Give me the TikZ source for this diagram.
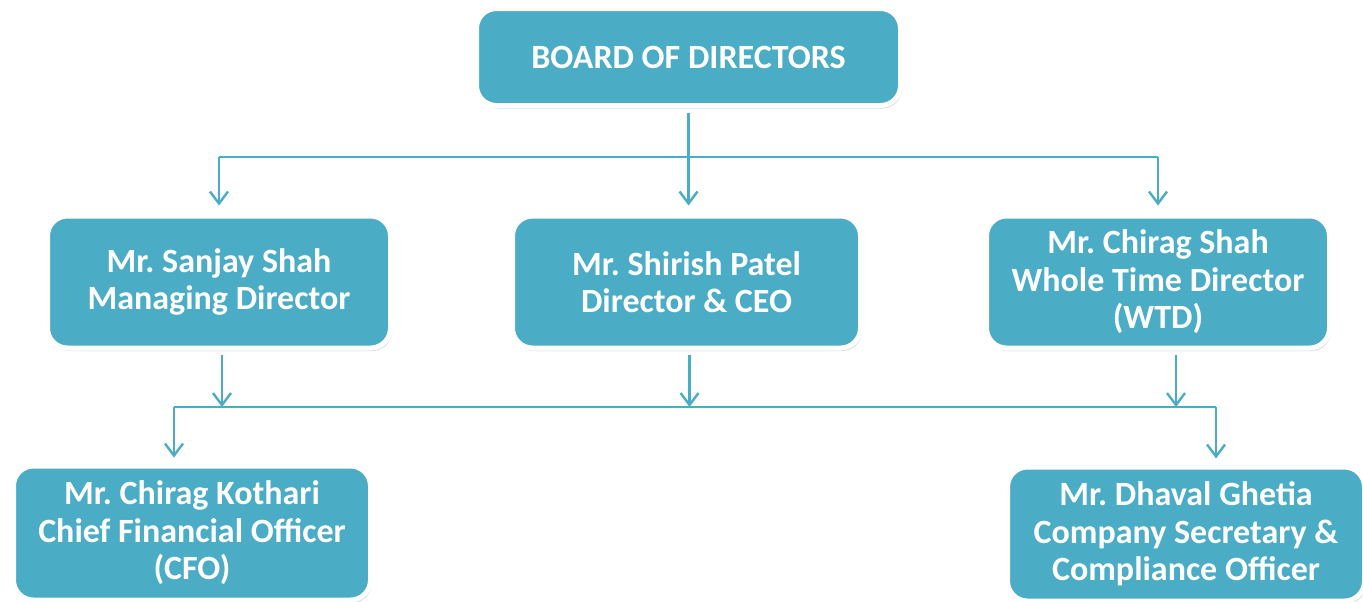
\documentclass[tikz,border=0pt]{standalone}
\usepackage{fontspec}
\setmainfont{Carlito}
\usetikzlibrary{arrows.meta,shadows}
\definecolor{orgblue}{HTML}{4BACC6}

\begin{document}
\frenchspacing
\begin{tikzpicture}[x=0.5pt,y=-0.5pt,
  person/.style={draw=white,line width=2.5pt,fill=orgblue,rounded corners=10pt,
    text=white,font=\bfseries\fontsize{17}{18.7}\selectfont,align=center,
    drop shadow={shadow xshift=0.8pt,shadow yshift=-1.5pt,opacity=0.3}},
  link/.style={orgblue,line width=1.2pt},
  drop/.style={link,-{Straight Barb[length=6pt,width=9pt]}}]
\useasboundingbox (0,0) rectangle (1363,601);
% boxes
\node[person,minimum width=212pt,minimum height=48.5pt] (board) at (688.5,57) {BOARD OF DIRECTORS};
\node[person,minimum width=171.5pt,minimum height=66pt] (sanjay) at (219,282) {Mr. Sanjay Shah\\Managing Director};
\node[person,minimum width=174pt,minimum height=66pt] (shirish) at (686.5,282) {Mr. Shirish Patel\\Director \& CEO};
\node[person,minimum width=171.5pt,minimum height=66pt] (chirag) at (1158,282) {Mr. Chirag Shah\\Whole Time Director\\(WTD)};
\node[person,minimum width=178.5pt,minimum height=67pt] (cfo) at (192,533) {Mr. Chirag Kothari\\Chief Financial Officer\\(CFO)};
\node[person,minimum width=178.5pt,minimum height=67pt] (cs) at (1186,534) {Mr. Dhaval Ghetia\\Company Secretary \&\\Compliance Officer};
% first level
\coordinate (busa) at (688,157);
\draw[link] (sanjay.north |- busa) -- (chirag.north |- busa);
\draw[drop,shorten <=2.5pt,shorten >=4pt] (board.south) -- (board.south |- shirish.north);
\foreach \n in {sanjay,chirag}
  \draw[drop,shorten >=4pt] (\n.north |- busa) -- (\n.north);
% second level
\coordinate (busw) at (174,407);
\coordinate (buse) at (1216,407);
\draw[link] (busw) -- (buse);
\foreach \n in {sanjay,shirish}
  \draw[drop,shorten <=2pt] ([xshift=1.5pt]\n.south) -- ([xshift=1.5pt]\n.south |- busw);
\draw[drop,shorten <=2pt] ([xshift=9pt]chirag.south) -- ([xshift=9pt]chirag.south |- busw);
\draw[drop,shorten >=3pt] (busw) -- (busw |- cfo.north);
\draw[drop,shorten >=3pt] (buse) -- (buse |- cs.north);
\end{tikzpicture}
\end{document}
